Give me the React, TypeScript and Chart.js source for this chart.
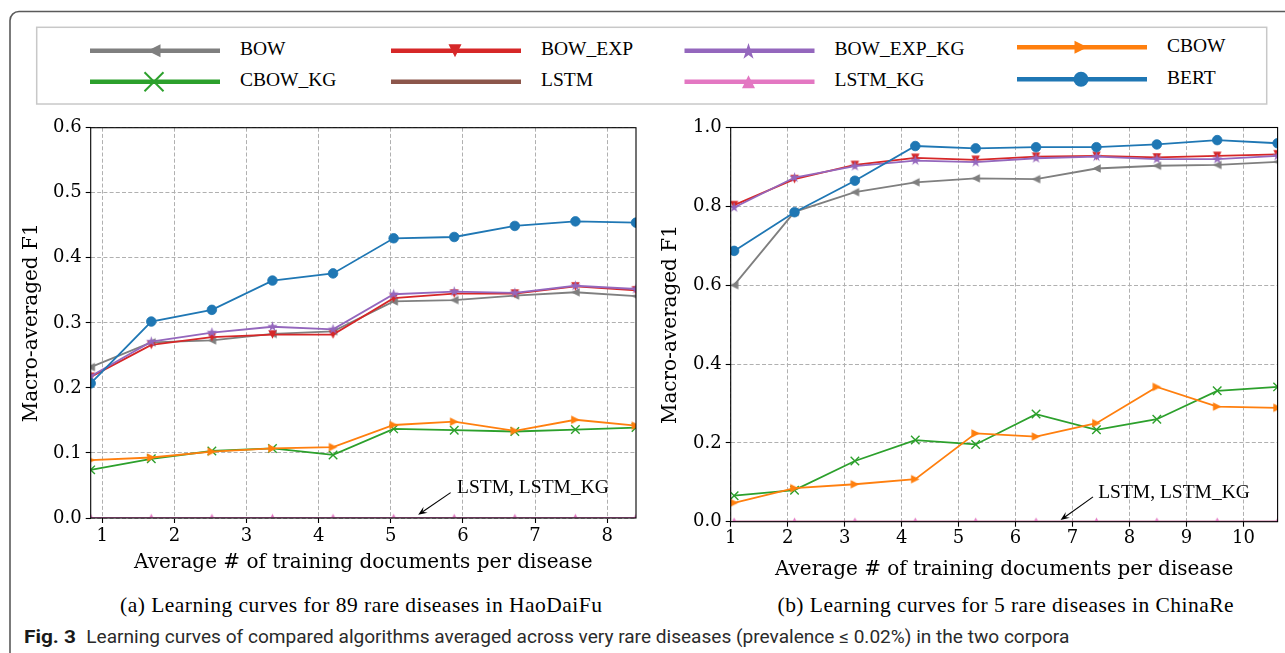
import React, { useEffect, useRef } from 'react';
import { Chart, registerables } from 'chart.js';

Chart.register(...registerables);

// ---------------- data ----------------
const seriesNames = ['BOW', 'CBOW_KG', 'BOW_EXP', 'LSTM', 'BOW_EXP_KG', 'LSTM_KG', 'CBOW', 'BERT'];

// (a) HaoDaiFu
const haoX = [0.84, 1.68, 2.52, 3.36, 4.2, 5.04, 5.88, 6.72, 7.56, 8.4];
const haoBOW = [0.232, 0.27, 0.273, 0.283, 0.287, 0.333, 0.335, 0.342, 0.347, 0.341];
const haoCBOW_KG = [0.074, 0.091, 0.103, 0.107, 0.097, 0.137, 0.135, 0.133, 0.136, 0.139];
const haoBOW_EXP = [0.217, 0.266, 0.278, 0.282, 0.282, 0.338, 0.345, 0.345, 0.356, 0.35];
const haoLSTM = [0, 0, 0, 0, 0, 0, 0, 0, 0, 0];
const haoBOW_EXP_KG = [0.218, 0.271, 0.285, 0.294, 0.29, 0.344, 0.348, 0.346, 0.357, 0.352];
const haoLSTM_KG = [0, 0, 0, 0, 0, 0, 0, 0, 0, 0];
const haoCBOW = [0.089, 0.093, 0.102, 0.107, 0.109, 0.143, 0.148, 0.134, 0.151, 0.142];
const haoBERT = [0.207, 0.302, 0.32, 0.365, 0.376, 0.43, 0.432, 0.449, 0.456, 0.454];

// (b) ChinaRe
const chinaX = [1.06, 2.12, 3.18, 4.24, 5.3, 6.36, 7.42, 8.48, 9.54, 10.6];
const chinaBOW = [0.6, 0.786, 0.836, 0.861, 0.871, 0.869, 0.896, 0.903, 0.905, 0.913];
const chinaCBOW_KG = [0.066, 0.08, 0.154, 0.207, 0.196, 0.273, 0.233, 0.26, 0.332, 0.342];
const chinaBOW_EXP = [0.803, 0.869, 0.905, 0.923, 0.918, 0.926, 0.928, 0.924, 0.928, 0.932];
const chinaLSTM = [0, 0, 0, 0, 0, 0, 0, 0, 0, 0];
const chinaBOW_EXP_KG = [0.797, 0.873, 0.902, 0.916, 0.912, 0.922, 0.926, 0.92, 0.92, 0.928];
const chinaLSTM_KG = [0, 0, 0, 0, 0, 0, 0, 0, 0, 0];
const chinaCBOW = [0.048, 0.085, 0.095, 0.108, 0.224, 0.216, 0.25, 0.342, 0.292, 0.289];
const chinaBERT = [0.687, 0.785, 0.865, 0.953, 0.947, 0.95, 0.95, 0.957, 0.968, 0.96];

// axis ranges / ticks
const haoXRange = [0.84, 8.4];
const haoYRange = [0, 0.6];
const haoYStep = 0.1;
const chinaXRange = [1.0, 10.6];
const chinaYRange = [0, 1.0];
const chinaYStep = 0.2;
const xStep = 1;

// texts
const xTitle = 'Average # of training documents per disease';
const yTitle = 'Macro-averaged F1';
const annotationText = 'LSTM, LSTM_KG';
const captionA = '(a) Learning curves for 89 rare diseases in HaoDaiFu';
const captionB = '(b) Learning curves for 5 rare diseases in ChinaRe';
const figLabel = 'Fig. 3';
const figText = 'Learning curves of compared algorithms averaged across very rare diseases (prevalence \u2264 0.02%) in the two corpora';

// annotation anchor points (data coordinates): text, arrow tail, arrow tip
const haoAnnot = { text: [5.92, 0.046], tail: [5.83, 0.039], tip: [5.38, 0.005] };
const chinaAnnot = { text: [7.45, 0.072], tail: [7.36, 0.063], tip: [6.79, 0.004] };

// ---------------- styles ----------------
const seriesStyle: Record<string, { color: string; marker: string }> = {
  BOW: { color: '#7f7f7f', marker: '<' },
  CBOW_KG: { color: '#2ca02c', marker: 'x' },
  BOW_EXP: { color: '#d62728', marker: 'v' },
  LSTM: { color: '#8c564b', marker: '' },
  BOW_EXP_KG: { color: '#9467bd', marker: '*' },
  LSTM_KG: { color: '#e377c2', marker: '^' },
  CBOW: { color: '#ff7f0e', marker: '>' },
  BERT: { color: '#1f77b4', marker: 'o' },
};

function makeMarker(kind: string, color: string, size: number): HTMLCanvasElement {
  const pad = 2;
  const dim = Math.ceil(size) + pad * 2;
  const c = document.createElement('canvas');
  c.width = dim;
  c.height = dim;
  const g = c.getContext('2d') as CanvasRenderingContext2D;
  g.translate(dim / 2, dim / 2);
  const r = size / 2;
  g.fillStyle = color;
  g.beginPath();
  if (kind === '^') { g.moveTo(0, -r); g.lineTo(r, r); g.lineTo(-r, r); }
  else if (kind === 'v') { g.moveTo(0, r); g.lineTo(r, -r); g.lineTo(-r, -r); }
  else if (kind === '<') { g.moveTo(-r, 0); g.lineTo(r, -r); g.lineTo(r, r); }
  else if (kind === '>') { g.moveTo(r, 0); g.lineTo(-r, -r); g.lineTo(-r, r); }
  else if (kind === '*') {
    for (let i = 0; i < 10; i++) {
      const a = -Math.PI / 2 + (i * Math.PI) / 5;
      const rr = i % 2 === 0 ? r : r * 0.382;
      const px = rr * Math.cos(a);
      const py = rr * Math.sin(a);
      if (i === 0) g.moveTo(px, py); else g.lineTo(px, py);
    }
  }
  g.closePath();
  g.fill();
  return c;
}

function buildDataset(name: string, xs: number[], ys: number[], idx: number) {
  const st = seriesStyle[name];
  const base: any = {
    label: name,
    data: xs.map((x, i) => ({ x, y: ys[i] })),
    borderColor: st.color,
    backgroundColor: st.color,
    borderWidth: 1.8,
    tension: 0,
    fill: false,
    clip: 0,
    order: seriesNames.length - idx,
    pointBackgroundColor: st.color,
    pointBorderColor: st.color,
    pointHoverRadius: 0,
  };
  if (st.marker === 'o') { base.pointStyle = 'circle'; base.pointRadius = 4.8; base.pointBorderWidth = 0.8; }
  else if (st.marker === 'x') { base.pointStyle = 'crossRot'; base.pointRadius = 6; base.pointBorderWidth = 1.4; }
  else if (st.marker === '') { base.pointRadius = 0; }
  else if (st.marker === '*') { base.pointStyle = makeMarker('*', st.color, 11); base.pointRadius = 5; }
  else { base.pointStyle = makeMarker(st.marker, st.color, 8.5); base.pointRadius = 4.5; }
  return base;
}

type Box = { left: number; top: number; right: number; bottom: number };
type PlotProps = {
  left: number; top: number; width: number; height: number; area: Box;
  xs: number[]; series: number[][]; xRange: number[]; yRange: number[]; yStep: number;
  annot: { text: number[]; tail: number[]; tip: number[] };
  yTitleCenterX: number; xTitleCenterY: number; xTickPad: number;
};

const framePlugin = {
  id: 'frameAnnot',
  afterDatasetsDraw(chart: any, _args: any, opts: any) {
    const { ctx, chartArea: a } = chart;
    const xs = chart.scales.x;
    const ys = chart.scales.y;
    ctx.save();
    ctx.strokeStyle = '#000';
    ctx.lineWidth = 1.1;
    ctx.strokeRect(a.left, a.top, a.right - a.left, a.bottom - a.top);
    const an = opts.annot;
    if (an) {
      ctx.fillStyle = '#000';
      ctx.font = '19.5px "Liberation Serif", "Times New Roman", serif';
      ctx.textBaseline = 'middle';
      ctx.textAlign = 'left';
      ctx.fillText(annotationText, xs.getPixelForValue(an.text[0]), ys.getPixelForValue(an.text[1]));
      const x1 = xs.getPixelForValue(an.tail[0]);
      const y1 = ys.getPixelForValue(an.tail[1]);
      const x2 = xs.getPixelForValue(an.tip[0]);
      const y2 = ys.getPixelForValue(an.tip[1]);
      const ang = Math.atan2(y2 - y1, x2 - x1);
      const hl = 9;
      const hw = 3.6;
      ctx.lineWidth = 1.1;
      ctx.beginPath();
      ctx.moveTo(x1, y1);
      ctx.lineTo(x2 - Math.cos(ang) * hl * 0.6, y2 - Math.sin(ang) * hl * 0.6);
      ctx.stroke();
      ctx.beginPath();
      ctx.moveTo(x2, y2);
      ctx.lineTo(x2 - Math.cos(ang) * hl - Math.sin(ang) * hw, y2 - Math.sin(ang) * hl + Math.cos(ang) * hw);
      ctx.lineTo(x2 - Math.cos(ang) * hl * 0.6, y2 - Math.sin(ang) * hl * 0.6);
      ctx.lineTo(x2 - Math.cos(ang) * hl + Math.sin(ang) * hw, y2 - Math.sin(ang) * hl - Math.cos(ang) * hw);
      ctx.closePath();
      ctx.fill();
    }
    ctx.restore();
  },
};

function SubPlot(p: PlotProps) {
  const ref = useRef<HTMLCanvasElement>(null);
  useEffect(() => {
    const canvas = ref.current;
    if (!canvas) return;
    const tickFont = { family: '"DejaVu Serif"', size: 18, lineHeight: 1.2 };
    const titleFont = { family: '"DejaVu Serif"', size: 20, lineHeight: 1.2 };
    const padTop = p.area.top - p.top;
    const padRight = p.left + p.width - p.area.right;
    const yAxisW = p.area.left - p.left;
    const xAxisH = p.top + p.height - p.area.bottom;
    const gridOpts = {
      color: '#b0b0b0',
      lineWidth: 1,
      drawTicks: true,
      tickLength: 5,
      tickColor: '#000',
      tickWidth: 1.1,
      tickBorderDash: [],
    };
    const chart = new Chart(canvas, {
      type: 'line',
      data: {
        datasets: seriesNames.map((n, i) => buildDataset(n, p.xs, p.series[i], i)),
      },
      options: {
        animation: false,
        responsive: false,
        devicePixelRatio: 1,
        events: [],
        layout: { padding: { left: 0, top: padTop, right: padRight, bottom: 0 } },
        plugins: {
          legend: { display: false },
          tooltip: { enabled: false },
          frameAnnot: { annot: p.annot },
        } as any,
        scales: {
          x: {
            type: 'linear',
            min: p.xRange[0],
            max: p.xRange[1],
            afterFit: (s: any) => { s.height = xAxisH; },
            ticks: {
              stepSize: xStep,
              includeBounds: false,
              autoSkip: false,
              maxRotation: 0,
              color: '#000',
              font: tickFont,
              padding: p.xTickPad,
              callback: (v: any) => String(v),
            },
            grid: gridOpts,
            border: { display: false, dash: [4, 2.2] },
            title: {
              display: true,
              text: xTitle,
              color: '#000',
              font: titleFont,
              padding: { top: 0, bottom: p.top + p.height - p.xTitleCenterY - 12 },
            },
          },
          y: {
            type: 'linear',
            min: p.yRange[0],
            max: p.yRange[1],
            afterFit: (s: any) => { s.width = yAxisW; },
            ticks: {
              stepSize: p.yStep,
              includeBounds: false,
              autoSkip: false,
              color: '#000',
              font: tickFont,
              padding: 4,
              callback: (v: any) => Number(v).toFixed(1),
            },
            grid: gridOpts,
            border: { display: false, dash: [4, 2.2] },
            title: {
              display: true,
              text: yTitle,
              color: '#000',
              font: titleFont,
              padding: { top: p.yTitleCenterX - p.left - 12, bottom: 0 },
            },
          },
        },
      } as any,
      plugins: [framePlugin as any],
    });
    return () => chart.destroy();
  }, []);
  return (
    <canvas
      ref={ref}
      width={p.width}
      height={p.height}
      style={{ position: 'absolute', left: p.left, top: p.top, width: p.width, height: p.height }}
    />
  );
}

// ---------------- legend (svg) ----------------
const legendColumns = [
  { x: 90, rows: [50.7, 81.7], names: ['BOW', 'CBOW_KG'] },
  { x: 391, rows: [50.7, 81.7], names: ['BOW_EXP', 'LSTM'] },
  { x: 684.5, rows: [50.7, 81.7], names: ['BOW_EXP_KG', 'LSTM_KG'] },
  { x: 1017, rows: [47.3, 79.3], names: ['CBOW', 'BERT'] },
];

function LegendMarker({ kind, color, cx, cy }: { kind: string; color: string; cx: number; cy: number }) {
  const r = 6.5;
  if (kind === '<') return <polygon points={`${cx - r},${cy} ${cx + r},${cy - r} ${cx + r},${cy + r}`} fill={color} />;
  if (kind === '>') return <polygon points={`${cx + r},${cy} ${cx - r},${cy - r} ${cx - r},${cy + r}`} fill={color} />;
  if (kind === 'v') return <polygon points={`${cx - r},${cy - r} ${cx + r},${cy - r} ${cx},${cy + r}`} fill={color} />;
  if (kind === '^') return <polygon points={`${cx - r},${cy + r} ${cx + r},${cy + r} ${cx},${cy - r}`} fill={color} />;
  if (kind === 'o') return <circle cx={cx} cy={cy} r={7.5} fill={color} />;
  if (kind === 'x') {
    const d = 9.5;
    return (
      <g stroke={color} strokeWidth={2}>
        <line x1={cx - d} y1={cy - d} x2={cx + d} y2={cy + d} />
        <line x1={cx - d} y1={cy + d} x2={cx + d} y2={cy - d} />
      </g>
    );
  }
  if (kind === '*') {
    const pts: string[] = [];
    const R = 8.6;
    for (let i = 0; i < 10; i++) {
      const a = -Math.PI / 2 + (i * Math.PI) / 5;
      const rr = i % 2 === 0 ? R : R * 0.382;
      pts.push(`${cx + rr * Math.cos(a)},${cy + 1 + rr * Math.sin(a)}`);
    }
    return <polygon points={pts.join(' ')} fill={color} />;
  }
  return null;
}

export default function App() {
  const haoSeries = [haoBOW, haoCBOW_KG, haoBOW_EXP, haoLSTM, haoBOW_EXP_KG, haoLSTM_KG, haoCBOW, haoBERT];
  const chinaSeries = [chinaBOW, chinaCBOW_KG, chinaBOW_EXP, chinaLSTM, chinaBOW_EXP_KG, chinaLSTM_KG, chinaCBOW, chinaBERT];
  return (
    <div style={{ position: 'absolute', left: 0, top: 0, width: 1285, height: 653, overflow: 'hidden', background: '#fff' }}>
      <svg width={1285} height={653} style={{ position: 'absolute', left: 0, top: 0 }}>
        <rect x={10} y={11.5} width={1400} height={800} rx={9} ry={9} fill="none" stroke="#5a5a5a" strokeWidth={1.6} />
        <rect x={36.7} y={27.3} width={1230} height={76.7} fill="#fff" stroke="#c8c8c8" strokeWidth={1.5} />
        {legendColumns.map((col) =>
          col.names.map((n, j) => {
            const st = seriesStyle[n];
            const y = col.rows[j];
            return (
              <g key={n}>
                <line x1={col.x} y1={y} x2={col.x + 130} y2={y} stroke={st.color} strokeWidth={4.5} />
                <LegendMarker kind={st.marker} color={st.color} cx={col.x + 64} cy={y} />
                <text
                  x={col.x + 150}
                  y={y - 2.3}
                  dominantBaseline="central"
                  fontFamily='"Liberation Serif", "Times New Roman", serif'
                  fontSize={19.5}
                  fill="#000"
                >
                  {n}
                </text>
              </g>
            );
          })
        )}
        <text x={120} y={605} dominantBaseline="central" fontFamily='"Liberation Serif", serif' fontSize={21.5} fill="#000" textLength={482} lengthAdjust="spacing">
          {captionA}
        </text>
        <text x={777.5} y={605} dominantBaseline="central" fontFamily='"Liberation Serif", serif' fontSize={21.5} fill="#000" textLength={456} lengthAdjust="spacing">
          {captionB}
        </text>
        <text x={24} y={636.5} dominantBaseline="central" fontFamily="Roboto, sans-serif" fontWeight={700} fontSize={18.5} fill="#1a1a1a" textLength={52} lengthAdjust="spacingAndGlyphs">
          {figLabel}
        </text>
        <text x={86.3} y={636.5} dominantBaseline="central" fontFamily="Roboto, sans-serif" fontSize={18.5} fill="#2a2a2a" textLength={983} lengthAdjust="spacingAndGlyphs">
          {figText}
        </text>
      </svg>
      <SubPlot
        left={0} top={110} width={660} height={470}
        area={{ left: 90.7, top: 127.7, right: 636, bottom: 518 }}
        xs={haoX} series={haoSeries} xRange={haoXRange} yRange={haoYRange} yStep={haoYStep}
        annot={haoAnnot} yTitleCenterX={31.6} xTitleCenterY={562.7} xTickPad={3}
      />
      <SubPlot
        left={640} top={110} width={645} height={472}
        area={{ left: 730.7, top: 127.5, right: 1279.3, bottom: 521.7 }}
        xs={chinaX} series={chinaSeries} xRange={chinaXRange} yRange={chinaYRange} yStep={chinaYStep}
        annot={chinaAnnot} yTitleCenterX={671} xTitleCenterY={569.3} xTickPad={1}
      />
    </div>
  );
}
